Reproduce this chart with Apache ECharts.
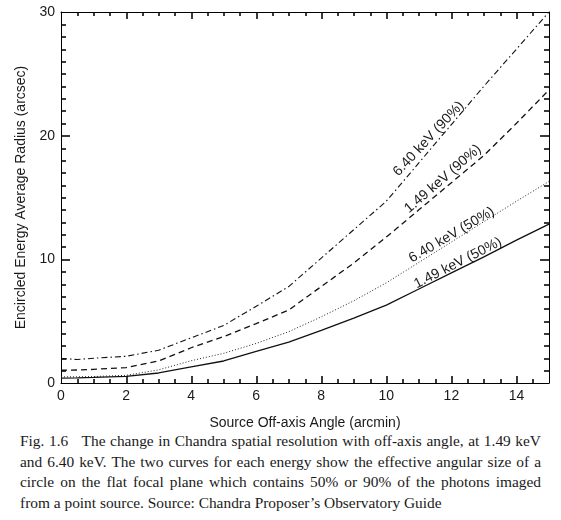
<!DOCTYPE html>
<html>
<head>
<meta charset="utf-8">
<script src="https://cdn.jsdelivr.net/npm/echarts@6/dist/echarts.min.js"></script>
<style>
  html, body { margin: 0; padding: 0; background: #fff; }
  #wrap { position: relative; width: 561px; height: 520px; overflow: hidden; }
  #chart { position: absolute; left: 0; top: 0; width: 561px; height: 430px; }
  #caption { position: absolute; left: 20px; top: 431px; width: 521px;
    font-family: "Liberation Serif", "Times New Roman", serif; font-size: 15.4px; color: #1a1a1a; }
  #caption div { height: 20.7px; line-height: 20.7px; white-space: nowrap; word-spacing: -2px;
    text-align: justify; text-align-last: justify; }
  #caption div.last { text-align-last: left; word-spacing: 0; }
</style>
</head>
<body>
<div id="wrap">
  <div id="chart"></div>
  <div id="caption">
    <div>Fig. 1.6&nbsp;&nbsp; The change in Chandra spatial resolution with off-axis angle, at 1.49 keV</div>
    <div>and 6.40 keV. The two curves for each energy show the effective angular size of a</div>
    <div>circle on the flat focal plane which contains 50% or 90% of the photons imaged</div>
    <div class="last">from a point source. Source: Chandra Proposer’s Observatory Guide</div>
  </div>
</div>
<script>
// Off-axis angle (arcmin)
var angles = [0, 0.5, 1, 2, 3, 4, 5, 6, 7, 8, 9, 10, 11, 12, 13, 14, 15];
// Encircled energy average radius (arcsec)
var kev149_50 = [0.40, 0.42, 0.45, 0.54, 0.81, 1.30, 1.78, 2.55, 3.30, 4.25, 5.25, 6.30, 7.60, 8.90, 10.20, 11.55, 12.85];
var kev640_50 = [0.50, 0.50, 0.52, 0.62, 1.06, 1.80, 2.40, 3.20, 4.15, 5.35, 6.65, 8.10, 9.75, 11.40, 13.05, 14.70, 16.30];
var kev149_90 = [1.03, 1.05, 1.10, 1.25, 1.78, 2.85, 3.75, 4.80, 5.90, 7.80, 9.70, 11.80, 14.00, 16.20, 18.40, 21.00, 23.70];
var kev640_90 = [1.98, 1.90, 2.00, 2.16, 2.65, 3.65, 4.65, 6.20, 7.80, 10.10, 12.40, 14.70, 17.80, 20.90, 24.00, 27.00, 30.00];
var xTicks = [0, 2, 4, 6, 8, 10, 12, 14];
var yTicks = [0, 10, 20, 30];
// curve labels: text, angle (arcmin), radius (arcsec), rotation (deg)
var labelTexts = ['6.40 keV (90%)', '1.49 keV (90%)', '6.40 keV (50%)', '1.49 keV (50%)'];
var labelX = [11.3, 11.74, 12.01, 12.2];
var labelY = [19.75, 16.5, 11.97, 9.7];
var labelRot = [47, 41, 30.5, 27];

function pairs(vals) { return angles.map(function (a, i) { return [a, vals[i]]; }); }

var chart = echarts.init(document.getElementById('chart'), null, { renderer: 'canvas' });
var font = '"Liberation Sans", Helvetica, Arial, sans-serif';
var txt = '#1a1a1a';

function makeAxis(cfg) {
  var ax = {
    type: 'value',
    min: cfg.min, max: cfg.max, interval: cfg.interval,
    position: cfg.position,
    axisLine: { show: true, onZero: false, lineStyle: { color: '#000', width: 1 } },
    splitLine: { show: false },
    axisTick: { show: false },
    minorTick: { show: false },
    axisLabel: {
      show: !!cfg.labels, margin: 6,
      color: txt, fontFamily: font, fontSize: 14,
      formatter: function (v) { return cfg.labels && cfg.labels.indexOf(v) >= 0 ? String(v) : ''; }
    }
  };
  if (cfg.name) {
    ax.name = cfg.name;
    ax.nameLocation = 'middle';
    ax.nameGap = cfg.nameGap;
    if (cfg.nameRotate) ax.nameRotate = cfg.nameRotate;
    ax.nameTextStyle = { color: txt, fontFamily: font, fontSize: 14 };
  }
  return ax;
}

var option = {
  animation: false,
  backgroundColor: '#fff',
  grid: { left: 61, right: 12, top: 12, bottom: 47, outerBoundsMode: 'none' },
  xAxis: [
    makeAxis({ min: 0, max: 15, interval: 2, position: 'bottom',
      labels: xTicks, name: 'Source Off-axis Angle (arcmin)', nameGap: 33 }),
    makeAxis({ min: 0, max: 15, interval: 2, position: 'top' })
  ],
  yAxis: [
    makeAxis({ min: 0, max: 30, interval: 10, position: 'left',
      labels: yTicks, name: 'Encircled Energy Average Radius (arcsec)', nameGap: 33, nameRotate: 90 }),
    makeAxis({ min: 0, max: 30, interval: 10, position: 'right' })
  ],
  series: [
    { name: '1.49 keV (50%)', type: 'line', data: pairs(kev149_50), symbol: 'none', smooth: false,
      lineStyle: { color: '#111', width: 1.3, type: 'solid' } },
    { name: '6.40 keV (50%)', type: 'line', data: pairs(kev640_50), symbol: 'none', smooth: false,
      lineStyle: { color: '#222', width: 1, type: [1, 2] } },
    { name: '1.49 keV (90%)', type: 'line', data: pairs(kev149_90), symbol: 'none', smooth: false,
      lineStyle: { color: '#111', width: 1.3, type: [6, 4] } },
    { name: '6.40 keV (90%)', type: 'line', data: pairs(kev640_90), symbol: 'none', smooth: false,
      lineStyle: { color: '#111', width: 1.1, type: [6, 3, 1.5, 3] } }
  ]
};
chart.setOption(option);

var graphics = [];
function toPx(v) { return chart.convertToPixel({ gridIndex: 0 }, v); }
var c0 = toPx([0, 0]), c1 = toPx([15, 30]);
var gLeft = c0[0], gBottom = c0[1], gRight = c1[0], gTop = c1[1];
var tickColor = '#3a3a3a';
// inward ticks on all four sides (placed through the chart's scales)
for (var k = 1; k < 30; k++) {
  var xpx = Math.floor(toPx([k * 0.5, 0])[0]);
  var tl = (k % 4 === 0) ? 7 : 4;
  graphics.push({ type: 'rect', shape: { x: xpx, y: gBottom - tl, width: 2, height: tl }, style: { fill: tickColor } });
  graphics.push({ type: 'rect', shape: { x: xpx, y: gTop, width: 2, height: tl }, style: { fill: tickColor } });
}
for (var j = 1; j < 30; j++) {
  var ypx = Math.floor(toPx([0, j])[1]);
  var yl = (j % 10 === 0) ? 9 : 5;
  graphics.push({ type: 'rect', shape: { x: gLeft, y: ypx, width: yl, height: 2 }, style: { fill: tickColor } });
  graphics.push({ type: 'rect', shape: { x: gRight - yl, y: ypx, width: yl, height: 2 }, style: { fill: tickColor } });
}
labelTexts.forEach(function (t, i) {
  var p = toPx([labelX[i], labelY[i]]);
  graphics.push({
    type: 'text', x: p[0], y: p[1], rotation: labelRot[i] * Math.PI / 180,
    style: { text: t, fill: txt, font: '14px ' + font, textAlign: 'center', textVerticalAlign: 'middle' }
  });
});
chart.setOption({ graphic: graphics });
</script>
</body>
</html>
